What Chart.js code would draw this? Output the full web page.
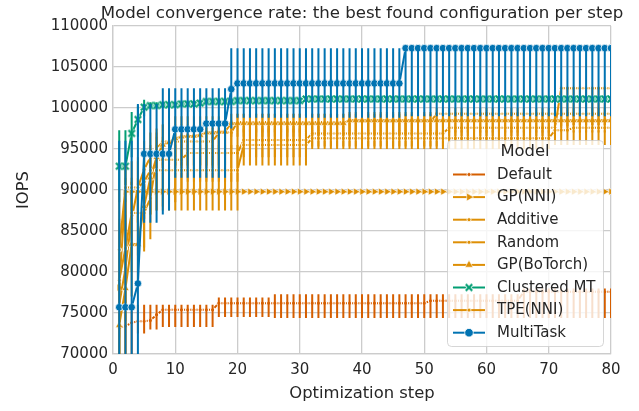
<!DOCTYPE html>
<html><head><meta charset="utf-8">
<script src="https://cdn.jsdelivr.net/npm/chart.js@4/dist/chart.umd.min.js"></script>
<style>html,body{margin:0;padding:0;background:#fff}canvas{display:block}</style>
</head><body>
<canvas id="c" width="639" height="411"></canvas>
<script>
const steps = [1,2,3,4,5,6,7,8,9,10,11,12,13,14,15,16,17,18,19,20,21,22,23,24,25,26,27,28,29,30,31,32,33,34,35,36,37,38,39,40,41,42,43,44,45,46,47,48,49,50,51,52,53,54,55,56,57,58,59,60,61,62,63,64,65,66,67,68,69,70,71,72,73,74,75,76,77,78,79,80];
const xTicks = [0,10,20,30,40,50,60,70,80];
const yTicks = [70000,75000,80000,85000,90000,95000,100000,105000,110000];

const defaultMean = [73200,73400,73800,74000,74000,74100,74800,75400,75400,75400,
75400,75400,75400,75400,75400,75400,76200,76200,76200,76200,
76200,76200,76200,76200,76200,76200,76200,76200,76200,76200,
76200,76200,76200,76200,76200,76200,76200,76200,76200,76200,
76200,76200,76200,76200,76200,76200,76200,76200,76200,76200,
76500,76500,76500,76500,76500,76500,76500,76500,76500,76500,
76500,76500,76500,76500,76500,77600,77600,77600,77600,77600,
77600,77600,77600,77600,77600,77600,77600,77600,77600,77600];
const defaultLo = [66000,66000,67000,72500,72500,73000,73000,73300,73300,73300,
73300,73300,73300,73300,73300,73300,74500,74500,74500,74500,
74500,74500,74500,74500,74500,74400,74400,74400,74400,74400,
74400,74400,74400,74400,74400,74400,74400,74400,74400,74400,
74400,74400,74400,74400,74400,74400,74400,74400,74400,74400,
74400,74400,74400,74400,74400,74400,74400,74400,74400,74400,
74400,74400,74400,74400,74400,74400,74400,74400,74400,74400,
74400,74400,74400,74400,74400,74400,74400,74400,74400,74400];
const defaultHi = [76000,76200,76000,76000,76000,76000,76000,76000,76000,76000,
76000,76000,76000,76000,76000,76000,76900,76900,76900,76900,
76900,76900,76900,76900,76900,77300,77300,77300,77300,77300,
77300,77300,77300,77300,77300,77300,77300,77300,77300,77300,
77300,77300,77300,77300,77300,77300,77300,77300,77300,77300,
77300,77300,77300,77300,77300,77300,77300,77300,77300,77300,
77300,77300,77300,77300,77300,78000,78000,78000,78000,78000,
78000,78000,78000,78000,78000,78000,78000,78000,78000,78000];

const gpNniMean = [78100,89800,89800,89800,89800,89800,89800,89800,89800,89800,
89800,89800,89800,89800,89800,89800,89800,89800,89800,89800,
89800,89800,89800,89800,89800,89800,89800,89800,89800,89800,
89800,89800,89800,89800,89800,89800,89800,89800,89800,89800,
89800,89800,89800,89800,89800,89800,89800,89800,89800,89800,
89800,89800,89800,89800,89800,89800,89800,89800,89800,89800,
89800,89800,89800,89800,89800,89800,89800,89800,89800,89800,
89800,89800,89800,89800,89800,89800,89800,89800,89800,89800];
const gpNniLo = [70000,85000,85500,86000,86500,87000,87500,88000,88300,88500,
89600,89600,89600,89600,89600,89600,89600,89600,89600,89600,
89600,89600,89600,89600,89600,89600,89600,89600,89600,89600,
89600,89600,89600,89600,89600,89600,89600,89600,89600,89600,
89600,89600,89600,89600,89600,89600,89600,89600,89600,89600,
89600,89600,89600,89600,89600,89600,89600,89600,89600,89600,
89600,89600,89600,89600,89600,89600,89600,89600,89600,89600,
89600,89600,89600,89600,89600,89600,89600,89600,89600,89600];
const gpNniHi = [86500,91500,91000,90800,90500,90300,90200,90100,90000,90000,
90000,90000,90000,90000,90000,90000,90000,90000,90000,90000,
90000,90000,90000,90000,90000,90000,90000,90000,90000,90000,
90000,90000,90000,90000,90000,90000,90000,90000,90000,90000,
90000,90000,90000,90000,90000,90000,90000,90000,90000,90000,
90000,90000,90000,90000,90000,90000,90000,90000,90000,90000,
90000,90000,90000,90000,90000,90000,90000,90000,90000,90000,
90000,90000,90000,90000,90000,90000,90000,90000,90000,90000];

const additiveMean = [76000,80500,86500,90300,92500,94000,95000,95900,95900,95900,
95900,95900,95900,95900,95900,95900,97000,97000,97000,98300,
98300,98300,98300,98300,98300,98300,98300,98300,98300,98300,
98300,98300,98300,98300,98300,98300,98300,98300,98300,98300,
98300,98300,98300,98300,98300,98300,98300,98300,98300,98300,
98300,99300,99300,99300,99300,99300,99300,99300,99300,99300,
99300,99300,99300,99300,99300,99300,99300,99300,99300,99300,
99300,99300,99300,99300,99300,99300,99300,99300,99300,99300];
const additiveLo = [70000,74000,80000,85000,88000,90500,92000,93000,93000,93000,
93000,93000,93000,93000,93000,93000,95000,95000,95000,97000,
97000,97000,97000,97000,97000,97000,97000,97000,97000,97000,
97000,97000,97000,97000,97000,97000,97000,97000,97000,97000,
97000,97000,97000,97000,97000,97000,97000,97000,97000,97000,
97000,98300,98300,98300,98300,98300,98300,98300,98300,98300,
98300,98300,98300,98300,98300,98300,98300,98300,98300,98300,
98300,98300,98300,98300,98300,98300,98300,98300,98300,98300];
const additiveHi = [84000,87000,91000,94000,96000,97000,97500,98000,98000,98000,
98000,98000,98000,98000,98000,98000,98500,98500,98500,99300,
99300,99300,99300,99300,99300,99300,99300,99300,99300,99300,
99300,99300,99300,99300,99300,99300,99300,99300,99300,99300,
99300,99300,99300,99300,99300,99300,99300,99300,99300,99300,
99300,100000,100000,100000,100000,100000,100000,100000,100000,100000,
100000,100000,100000,100000,100000,100000,100000,100000,100000,100000,
100000,100000,100000,100000,100000,100000,100000,100000,100000,100000];

const randomMean = [79000,82900,87200,87200,87200,89000,93700,93700,93700,93700,
93700,94500,94500,94500,94500,94500,94500,94500,94500,94500,
96100,96100,96100,96100,96100,96100,96100,96100,96100,96100,
96100,96900,96900,96900,96900,96900,96900,96900,96900,96900,
96900,96900,96900,96900,96900,96900,96900,96900,96900,96900,
96900,96900,96900,97600,97600,97600,97600,97600,97600,97600,
97600,97600,97600,97600,97600,97600,97600,97600,97600,97600,
97600,102400,102400,102400,102400,102400,102400,102400,102400,102400];
const randomLo = [72000,76000,82000,82000,82500,84000,89500,89500,89500,89500,
89500,91000,91000,91000,91000,91000,91000,91000,91000,91000,
94000,94000,94000,94000,94000,94000,94000,94000,94000,94000,
94000,95300,95300,95300,95300,95300,95300,95300,95300,95300,
95300,95300,95300,95300,95300,95300,95300,95300,95300,95300,
95300,95300,95300,96300,96300,96300,96300,96300,96300,96300,
96300,96300,96300,96300,96300,96300,96300,96300,96300,96300,
96300,97800,97800,97800,97800,97800,97800,97800,97800,97800];
const randomHi = [86000,89000,91500,91500,91500,93000,96500,96500,96500,96500,
96500,97000,97000,97000,97000,97000,97000,97000,97000,97000,
97800,97800,97800,97800,97800,97800,97800,97800,97800,97800,
97800,98200,98200,98200,98200,98200,98200,98200,98200,98200,
98200,98200,98200,98200,98200,98200,98200,98200,98200,98200,
98200,98200,98200,99000,99000,99000,99000,99000,99000,99000,
99000,99000,99000,99000,99000,99000,99000,99000,99000,99000,
99000,102600,102600,102600,102600,102600,102600,102600,102600,102600];

const botorchMean = [73500,78000,83400,83400,88000,91500,94000,95500,95800,96300,
96500,96600,96600,96700,97000,97000,97100,97100,98150,98150,
98150,98150,98150,98150,98150,98150,98150,98150,98150,98150,
98150,98150,98150,98150,98150,98150,98150,98500,98500,98500,
98500,98500,98500,98500,98500,98500,98500,98500,98500,98500,
98500,98500,98500,98500,98500,98500,98500,98500,98500,98500,
98500,98500,98500,98500,98500,98500,98500,98500,98500,98500,
98500,98500,98500,98500,98500,98500,98500,98500,98500,98500];
const botorchLo = [67000,70000,77000,78000,83000,87000,90000,92000,92500,93000,
93000,93000,93000,93000,93000,93000,93000,93000,96500,96500,
96500,96500,96500,96500,96500,96500,96500,96500,96500,96500,
96500,96500,96500,96500,96500,96500,96500,97000,97000,97000,
97000,97000,97000,97000,97000,97000,97000,97000,97000,97000,
97000,97000,97000,97000,97000,97000,97000,97000,97000,97000,
97000,97000,97000,97000,97000,97000,97000,97000,97000,97000,
97000,97000,97000,97000,97000,97000,97000,97000,97000,97000];
const botorchHi = [80000,86000,89500,89000,93000,95500,97000,98000,98200,99000,
99000,99000,99000,99000,99000,99000,99000,99000,99300,99300,
99300,99300,99300,99300,99300,99300,99300,99300,99300,99300,
99300,99300,99300,99300,99300,99300,99300,99500,99500,99500,
99500,99500,99500,99500,99500,99500,99500,99500,99500,99500,
99500,99500,99500,99500,99500,99500,99500,99500,99500,99500,
99500,99500,99500,99500,99500,99500,99500,99500,99500,99500,
99500,99500,99500,99500,99500,99500,99500,99500,99500,99500];

const clusteredMean = [92900,92900,96900,98600,100100,100300,100300,100400,100400,100400,
100500,100500,100500,100600,100800,100800,100800,100800,100800,100900,
100900,100900,100900,100900,100900,100900,100900,100900,100900,100900,
101100,101100,101100,101100,101100,101100,101100,101100,101100,101100,
101100,101100,101100,101100,101100,101100,101100,101100,101100,101100,
101100,101100,101100,101100,101100,101100,101100,101100,101100,101100,
101100,101100,101100,101100,101100,101100,101100,101100,101100,101100,
101100,101100,101100,101100,101100,101100,101100,101100,101100,101100];
const clusteredLo = [88500,88500,94000,96500,99000,99900,99900,100000,100000,100000,
100100,100100,100100,100200,100400,100400,100400,100400,100400,100500,
100500,100500,100500,100500,100500,100500,100500,100500,100500,100500,
100700,100700,100700,100700,100700,100700,100700,100700,100700,100700,
100700,100700,100700,100700,100700,100700,100700,100700,100700,100700,
100700,100700,100700,100700,100700,100700,100700,100700,100700,100700,
100700,100700,100700,100700,100700,100700,100700,100700,100700,100700,
100700,100700,100700,100700,100700,100700,100700,100700,100700,100700];
const clusteredHi = [97300,97300,99500,100300,101000,100700,100700,100800,100800,100800,
100900,100900,100900,101000,101200,101200,101200,101200,101200,101300,
101300,101300,101300,101300,101300,101300,101300,101300,101300,101300,
101500,101500,101500,101500,101500,101500,101500,101500,101500,101500,
101500,101500,101500,101500,101500,101500,101500,101500,101500,101500,
101500,101500,101500,101500,101500,101500,101500,101500,101500,101500,
101500,101500,101500,101500,101500,101500,101500,101500,101500,101500,
101500,101500,101500,101500,101500,101500,101500,101500,101500,101500];

const tpeMean = [82700,90300,90300,90300,91000,92400,92400,92400,92400,92400,
92400,92400,92400,92400,92400,92400,92400,92400,92400,92400,
95500,95500,95500,95500,95500,95500,95500,95500,95500,95500,
95500,96300,96300,96300,96300,96300,96300,96300,96300,96300,
96300,96300,96300,96300,96300,96300,96300,96300,96300,96300,
96300,96300,96300,96300,96300,96300,96300,96300,96300,96300,
96300,96300,96300,96300,96300,96300,96300,96300,96300,96300,
97300,97300,97300,97600,97600,97600,97600,97600,97600,97600];
const tpeLo = [74000,85000,86000,86000,86500,87000,87500,87500,87500,87500,
87500,87500,87500,87500,87500,87500,87500,87500,87500,87500,
93000,93000,93000,93000,93000,93000,93000,93000,93000,93000,
93000,95000,95000,95000,95000,95000,95000,95000,95000,95000,
95000,95000,95000,95000,95000,95000,95000,95000,95000,95000,
95000,95000,95000,95000,95000,95000,95000,95000,95000,95000,
95000,95000,95000,95000,95000,95000,95000,95000,95000,95000,
95500,95500,95500,95500,95500,95500,95500,95500,95500,95500];
const tpeHi = [90000,93000,93500,93500,94000,95000,95500,95500,95500,95500,
95500,95500,95500,95500,95500,95500,95500,95500,95500,95500,
97500,97500,97500,97500,97500,97500,97500,97500,97500,97500,
97500,97300,97300,97300,97300,97300,97300,97300,97300,97300,
97300,97300,97300,97300,97300,97300,97300,97300,97300,97300,
97300,97300,97300,97300,97300,97300,97300,97300,97300,97300,
97300,97300,97300,97300,97300,97300,97300,97300,97300,97300,
98300,98300,98300,98300,98300,98300,98300,98300,98300,98300];

const multiMean = [75700,75700,75700,78600,94400,94400,94400,94400,94400,97400,
97400,97400,97400,97400,98100,98100,98100,98100,102300,103000,
103000,103000,103000,103000,103000,103000,103000,103000,103000,103000,
103000,103000,103000,103000,103000,103000,103000,103000,103000,103000,
103000,103000,103000,103000,103000,103000,107300,107300,107300,107300,
107300,107300,107300,107300,107300,107300,107300,107300,107300,107300,
107300,107300,107300,107300,107300,107300,107300,107300,107300,107300,
107300,107300,107300,107300,107300,107300,107300,107300,107300,107300];
const multiLo = [60000,60000,60000,62000,86000,86000,86000,87000,87500,91500,
91500,91500,91500,91500,91500,91500,91500,91500,97500,98800,
98800,98800,98800,98800,98800,98800,98800,98800,98800,98800,
98800,98800,98800,98800,98800,98800,98800,98800,98800,98800,
98800,98800,98800,98800,98800,98800,99000,99000,99000,99000,
99000,99000,99000,99000,99000,99000,99000,99000,99000,99000,
99000,99000,99000,99000,99000,99000,99000,99000,99000,99000,
99000,99000,99000,99000,99000,99000,99000,99000,99000,99000];
const multiHi = [96000,96000,96000,100500,100500,100500,100500,102400,102400,102400,
102400,102400,102400,102400,102400,102400,102400,102400,107300,107300,
107300,107300,107300,107300,107300,107300,107300,107300,107300,107300,
107300,107300,107300,107300,107300,107300,107300,107300,107300,107300,
107300,107300,107300,107300,107300,107300,107300,107300,107300,107300,
107300,107300,107300,107300,107300,107300,107300,107300,107300,107300,
107300,107300,107300,107300,107300,107300,107300,107300,107300,107300,
107300,107300,107300,107300,107300,107300,107300,107300,107300,107300];

const modelNames = ['Default','GP(NNI)','Additive','Random','GP(BoTorch)','Clustered MT','TPE(NNI)','MultiTask'];
const FONT = "'DejaVu Sans', sans-serif";
const TXT = '#262626';
const VERM = '#d55e00', ORANGE = '#de8f05', GREEN = '#029e73', BLUE = '#0173b2';

function makeX(size, color){
  const c = document.createElement('canvas'); c.width = c.height = size;
  const g = c.getContext('2d'); const m = size/2, a = size*0.32;
  const path = () => { g.beginPath(); g.moveTo(m-a,m-a); g.lineTo(m+a,m+a); g.moveTo(m+a,m-a); g.lineTo(m-a,m+a); };
  g.strokeStyle = '#fff'; g.lineWidth = 3.4; path(); g.stroke();
  g.strokeStyle = color; g.lineWidth = 2.2; path(); g.stroke();
  return c;
}
const xMarker = makeX(10, GREEN);

const series = [
  {name: modelNames[0], mean: defaultMean, lo: defaultLo, hi: defaultHi, color: VERM, marker: 'dot'},
  {name: modelNames[1], mean: gpNniMean, lo: gpNniLo, hi: gpNniHi, color: ORANGE, marker: 'right'},
  {name: modelNames[2], mean: additiveMean, lo: additiveLo, hi: additiveHi, color: ORANGE, marker: 'dot'},
  {name: modelNames[3], mean: randomMean, lo: randomLo, hi: randomHi, color: ORANGE, marker: 'dot'},
  {name: modelNames[4], mean: botorchMean, lo: botorchLo, hi: botorchHi, color: ORANGE, marker: 'up'},
  {name: modelNames[5], mean: clusteredMean, lo: clusteredLo, hi: clusteredHi, color: GREEN, marker: 'x'},
  {name: modelNames[6], mean: tpeMean, lo: tpeLo, hi: tpeHi, color: ORANGE, marker: 'dot'},
  {name: modelNames[7], mean: multiMean, lo: multiLo, hi: multiHi, color: BLUE, marker: 'circle'}
];

function pointOpts(s){
  switch(s.marker){
    case 'dot': return {pointStyle:'circle', pointRadius:2.1, pointBorderWidth:1.1};
    case 'right': return {pointStyle:'triangle', pointRotation:90, pointRadius:4.2, pointBorderWidth:0.6};
    case 'up': return {pointStyle:'triangle', pointRotation:0, pointRadius:4.2, pointBorderWidth:0.6};
    case 'x': return {pointStyle:xMarker, pointRadius:4};
    case 'circle': return {pointStyle:'circle', pointRadius:3.8, pointBorderWidth:0.8};
  }
}

const datasets = series.map((s, i) => Object.assign({
  label: s.name,
  data: steps.map((x, k) => ({x: x, y: s.mean[k]})),
  errLo: s.lo, errHi: s.hi,
  borderColor: s.color,
  backgroundColor: s.color,
  pointBackgroundColor: s.color,
  pointBorderColor: '#ffffff',
  borderWidth: 2,
  tension: 0,
  order: series.length - i
}, pointOpts(s)));

const errorBars = {
  id: 'errorBars',
  afterDatasetDraw(chart, args){
    const ds = chart.data.datasets[args.index];
    if(!ds.errLo) return;
    const xs = chart.scales.x, ys = chart.scales.y, a = chart.chartArea, ctx = chart.ctx;
    ctx.save();
    ctx.beginPath(); ctx.rect(a.left, a.top, a.right - a.left, a.bottom - a.top); ctx.clip();
    ctx.strokeStyle = ds.borderColor; ctx.lineWidth = 2; ctx.lineCap = 'butt';
    ctx.beginPath();
    for(let k = 0; k < steps.length; k++){
      const px = xs.getPixelForValue(steps[k]);
      ctx.moveTo(px, ys.getPixelForValue(ds.errLo[k]));
      ctx.lineTo(px, ys.getPixelForValue(ds.errHi[k]));
    }
    ctx.stroke();
    ctx.restore();
  }
};

function drawMarker(ctx, s, x, y){
  ctx.save();
  ctx.fillStyle = s.color; ctx.strokeStyle = '#fff';
  if(s.marker === 'dot'){ ctx.lineWidth = 0.8; ctx.beginPath(); ctx.arc(x, y, 2.0, 0, Math.PI*2); ctx.fill(); ctx.stroke(); }
  else if(s.marker === 'circle'){ ctx.lineWidth = 0.8; ctx.beginPath(); ctx.arc(x, y, 4.3, 0, Math.PI*2); ctx.fill(); ctx.stroke(); }
  else if(s.marker === 'x'){ ctx.drawImage(xMarker, x - 5, y - 5); }
  else {
    const r = 4.6; let rot = s.marker === 'right' ? Math.PI/2 : 0;
    ctx.lineWidth = 0.6; ctx.beginPath();
    for(let j = 0; j < 3; j++){ const ang = rot + j*2*Math.PI/3; const px = x + Math.sin(ang)*r, py = y - Math.cos(ang)*r; if(j===0) ctx.moveTo(px,py); else ctx.lineTo(px,py); }
    ctx.closePath(); ctx.fill(); ctx.stroke();
  }
  ctx.restore();
}

const legendAndTitle = {
  id: 'legendAndTitle',
  afterDatasetsDraw(chart){
    const ctx = chart.ctx;
    ctx.save();
    const x0 = 447.5, y0 = 140.5, w = 156, h = 206, r = 4;
    ctx.beginPath();
    ctx.moveTo(x0 + r, y0); ctx.lineTo(x0 + w - r, y0); ctx.arcTo(x0 + w, y0, x0 + w, y0 + r, r);
    ctx.lineTo(x0 + w, y0 + h - r); ctx.arcTo(x0 + w, y0 + h, x0 + w - r, y0 + h, r);
    ctx.lineTo(x0 + r, y0 + h); ctx.arcTo(x0, y0 + h, x0, y0 + h - r, r);
    ctx.lineTo(x0, y0 + r); ctx.arcTo(x0, y0, x0 + r, y0, r); ctx.closePath();
    ctx.fillStyle = 'rgba(255,255,255,0.8)'; ctx.fill();
    ctx.strokeStyle = 'rgba(204,204,204,0.8)'; ctx.lineWidth = 1; ctx.stroke();
    ctx.fillStyle = TXT; ctx.textAlign = 'center'; ctx.textBaseline = 'middle';
    ctx.font = '16.4px ' + FONT;
    ctx.fillText('Model', 525, 152);
    ctx.font = '15px ' + FONT; ctx.textAlign = 'left';
    series.forEach((s, i) => {
      const y = 174.5 + i * 22.6;
      ctx.strokeStyle = s.color; ctx.lineWidth = 2;
      ctx.beginPath(); ctx.moveTo(453, y); ctx.lineTo(485, y); ctx.stroke();
      drawMarker(ctx, s, 469, y);
      ctx.fillStyle = TXT; ctx.fillText(s.name, 497, y + 0.5);
    });
    ctx.restore();
  },
  afterDraw(chart){
    const ctx = chart.ctx, a = chart.chartArea;
    ctx.save();
    ctx.fillStyle = TXT; ctx.font = '16.6px ' + FONT; ctx.textAlign = 'center'; ctx.textBaseline = 'alphabetic';
    ctx.fillText('Model convergence rate: the best found configuration per step', (a.left + a.right)/2, 18);
    ctx.restore();
  }
};

Chart.defaults.font.family = FONT;
Chart.defaults.color = TXT;

new Chart(document.getElementById('c'), {
  type: 'line',
  data: { datasets: datasets },
  options: {
    responsive: false,
    animation: false,
    devicePixelRatio: 1,
    layout: { padding: { left: 0, right: 28, top: 26, bottom: 0 } },
    plugins: { legend: { display: false }, title: { display: false }, tooltip: { enabled: false } },
    scales: {
      x: {
        type: 'linear', min: xTicks[0], max: xTicks[xTicks.length-1],
        afterBuildTicks: (s) => { s.ticks = xTicks.map(v => ({value: v})); },
        ticks: { font: { size: 15 }, color: TXT, padding: 7, maxRotation: 0 },
        grid: { color: '#cccccc', lineWidth: 1.3, drawTicks: false },
        border: { color: '#cccccc', width: 1.3 },
        title: { display: true, text: 'Optimization step', font: { size: 16.4 }, color: TXT, padding: { top: 0, bottom: 7 } },
        afterFit: (s) => { s.height = 57; }
      },
      y: {
        type: 'linear', min: yTicks[0], max: yTicks[yTicks.length-1],
        afterBuildTicks: (s) => { s.ticks = yTicks.map(v => ({value: v})); },
        ticks: { font: { size: 15 }, color: TXT, padding: 5, callback: (v) => String(v) },
        grid: { color: '#cccccc', lineWidth: 1.3, drawTicks: false },
        border: { color: '#cccccc', width: 1.3 },
        title: { display: true, text: 'IOPS', font: { size: 16.4 }, color: TXT, padding: { top: 13.5, bottom: 0 } },
        afterFit: (s) => { s.width = 113; }
      }
    }
  },
  plugins: [errorBars, legendAndTitle]
});
</script>
</body></html>
